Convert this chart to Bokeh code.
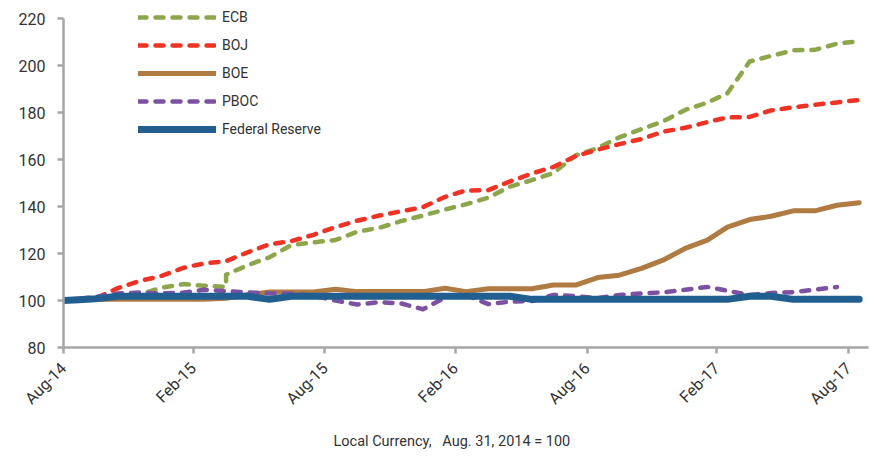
import math
import pandas as pd
from bokeh.plotting import figure
from bokeh.models import Range1d, FixedTicker, DatetimeTickFormatter, Legend, LegendItem, Title
from bokeh.embed import file_html
from bokeh.resources import INLINE

# ---- data ----
months = [f"{y}-{m:02d}-15" for y in (2014, 2015, 2016, 2017) for m in range(1, 13)]
months = [d for d in months if "2014-09-15" <= d <= "2017-09-15"]
dates = ["2014-08-31"] + months  # 38 points

fed = [100, 100.2, 100.8, 101.8, 101.8, 101.8, 101.8, 101.8, 101.8, 101.8,
       100.5, 101.8, 101.8, 101.8, 101.8, 101.8, 101.8, 101.8, 101.8, 101.8,
       101.8, 101.8, 100.5, 100.5, 100.5, 100.5, 100.5, 100.5, 100.5, 100.5,
       100.5, 100.5, 101.8, 101.8, 100.5, 100.5, 100.5, 100.5]

boe = [100, 100.5, 100.5, 100.5, 100.5, 100.5, 100.5, 100.5, 101, 102.5,
       103.6, 103.6, 103.6, 104.8, 103.8, 103.8, 103.8, 103.8, 105.2, 103.8,
       105, 105, 105, 106.6, 106.6, 109.8, 110.8, 113.7, 117.2, 122.2,
       125.7, 131.3, 134.5, 135.9, 138.2, 138.2, 140.6, 141.7]

boj = [100, 100, 101, 105.3, 108.3, 110.5, 114, 115.8, 116.8, 120.5,
       124, 125.3, 128, 131.3, 134, 136.2, 138, 139.8, 144.2, 146.9,
       147, 150.7, 154.1, 156.9, 161.5, 164.3, 166.6, 168.8, 171.9, 173.6,
       176, 178, 178.2, 181, 182.3, 183.4, 184.4, 185.4]

ecb_dates = dates[:9] + ["2015-04-15"] + dates[9:]
ecb = [100, 100, 101, 102, 102.5, 105.5, 107, 106.3, 105.8, 111,
       115, 118.5, 123.6, 124.8, 125.8, 129.3, 131, 133.8, 136.2, 138.8,
       141, 143.8, 148.5, 151.3, 154.3, 161.8, 165, 169.5, 173, 176.3,
       181.2, 184.3, 188.3, 201.8, 204.2, 206.6, 206.8, 209.4, 210.5]

pboc_dates = dates[:-1]
pboc = [100, 100.5, 101.5, 103, 103.4, 103, 103.4, 104.6, 104, 103.5,
        103, 103, 102, 100, 98.3, 99.3, 98.8, 96.3, 101.3, 102.3,
        98.5, 99.5, 99.8, 102.4, 101.9, 101, 102.4, 103, 103.5, 104.6,
        105.8, 104.2, 102.3, 103.2, 103.6, 104.6, 105.8]

tick_dates = ["2014-08-31", "2015-02-28", "2015-08-31", "2016-02-29",
              "2016-08-31", "2017-02-28", "2017-08-31"]
tick_labels = ["Aug-14", "Feb-15", "Aug-15", "Feb-16", "Aug-16", "Feb-17", "Aug-17"]
y_ticks = [80, 100, 120, 140, 160, 180, 200, 220]
caption = "Local Currency,\u00a0\u00a0 Aug. 31, 2014 = 100"

FONT = "Roboto"
TXT = "#333333"
AX = "#a6a6a6"


def ts(s):
    return pd.Timestamp(s).value / 1e6


p = figure(width=870, height=462, output_backend="svg", toolbar_location=None,
           x_axis_type="datetime",
           x_range=Range1d(ts("2014-08-31"), ts("2017-09-28")),
           y_range=Range1d(80, 226.1),
           min_border_left=63, min_border_right=2, min_border_top=4,
           min_border_bottom=114)
p.outline_line_color = None
p.xgrid.visible = False
p.ygrid.visible = False
p.background_fill_color = "white"

r_ecb = p.line(pd.to_datetime(ecb_dates), ecb, color="#8DA64B", line_width=4.5,
               line_dash="8 9", line_cap="round", line_join="round")
r_boj = p.line(pd.to_datetime(dates), boj, color="#EE3224", line_width=4.5,
               line_dash="8 9", line_cap="round", line_join="round")
r_boe = p.line(pd.to_datetime(dates), boe, color="#AF7B42", line_width=5,
               line_cap="round", line_join="round")
r_pboc = p.line(pd.to_datetime(pboc_dates), pboc, color="#7D51A1", line_width=4.5,
                line_dash="8 9", line_cap="round", line_join="round")
r_fed = p.line(pd.to_datetime(dates), fed, color="#225F91", line_width=7,
               line_cap="round", line_join="round")

# axes
xa = p.xaxis[0]
xa.ticker = FixedTicker(ticks=[ts(d) for d in tick_dates])
xa.formatter = DatetimeTickFormatter(days="%b-%y", months="%b-%y", years="%b-%y")
xa.major_label_orientation = math.pi / 4
ya = p.yaxis[0]
ya.ticker = FixedTicker(ticks=y_ticks)
ya.bounds = (80, 220)
for ax in (xa, ya):
    ax.axis_line_color = AX
    ax.axis_line_width = 2.5
    ax.major_tick_line_color = AX
    ax.major_tick_line_width = 2.5
    ax.major_tick_out = 6
    ax.major_tick_in = 0
    ax.minor_tick_out = 0
    ax.minor_tick_in = 0
    ax.major_label_text_font = FONT
    ax.major_label_text_color = TXT
xa.major_label_text_font_size = "16px"
xa.major_label_standoff = 12
ya.major_label_text_font_size = "16px"
ya.major_label_standoff = 12

legend = Legend(items=[
    LegendItem(label="ECB", renderers=[r_ecb]),
    LegendItem(label="BOJ", renderers=[r_boj]),
    LegendItem(label="BOE", renderers=[r_boe]),
    LegendItem(label="PBOC", renderers=[r_pboc]),
    LegendItem(label="Federal Reserve", renderers=[r_fed]),
], location=(75, 208), glyph_width=78, glyph_height=20, label_height=20,
    spacing=8, padding=0, margin=0, label_standoff=6,
    border_line_color=None, background_fill_alpha=0,
    label_text_font=FONT, label_text_font_size="14px", label_text_color=TXT)
p.add_layout(legend)

p.add_layout(Title(text=caption, align="left", offset=270, standoff=26,
                   text_font=FONT, text_font_size="14.5px", text_font_style="normal",
                   text_color=TXT), "below")

open("out.html", "w").write(file_html(p, INLINE))
